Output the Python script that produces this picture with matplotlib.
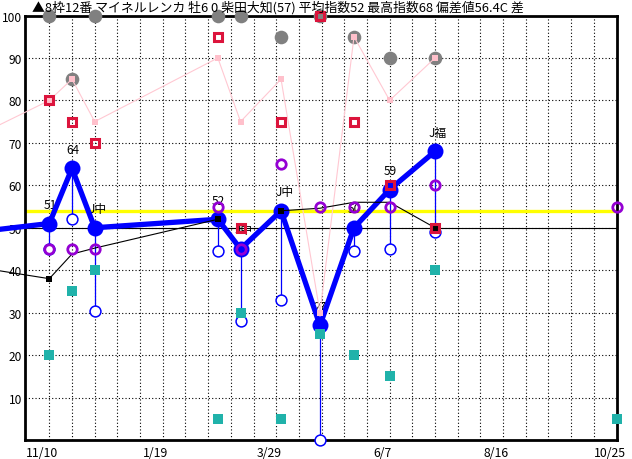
import numpy as np
import pandas as pd
import matplotlib
matplotlib.use('Agg')
import matplotlib.pyplot as plt
import matplotlib.dates as mdates
import matplotlib.transforms as mtransforms

plt.rcParams['font.family'] = ['Noto Sans CJK JP', 'DejaVu Sans']

title = '▲8枠12番 マイネルレンカ 牡6 0 柴田大知(57) 平均指数52 最高指数68 偏差値56.4C 差'

# past races (the first one lies left of the chart, only its lines show)
race_dates = ['2019-09-15', '2019-11-10', '2019-11-24', '2019-12-08', '2020-02-22', '2020-03-07',
              '2020-04-01', '2020-04-25', '2020-05-16', '2020-06-07', '2020-07-05']
index_main = [48.5, 51, 64, 50, 52, 45, 54, 27, 50, 59, 68]
index_labels = [None, '51', '64', 'J中', '52', 'J中', 'J中', '27', '50', '59', 'J福']
index_low = [np.nan, 45, 52, 30.5, 44.5, 28, 33, 0, 44.5, 45, 49]
purple_vals = [np.nan, 45, 45, 45, 55, 45, 65, 55, 55, 55, 60]
red_vals = [np.nan, 80, 75, 70, 95, 50, 75, 100, 75, 60, 50]
teal_vals = [np.nan, 20, 35, 40, 5, 30, 5, 25, 20, 15, 40]
gray_vals = [np.nan, 100, 85, 100, 100, 100, 95, 100, 95, 90, 90]
pink_vals = [69.5, 80, 85, 75, 90, 75, 85, 30, 95, 80, 90]
black_vals = [41.4, 38, 43.8, 45.2, 52, np.nan, 54, 54.6, 56, 56, 50]
black_marked = [1, 4, 6, 10]   # races where the black marker shows

# today's race
today = '2020-10-25'
today_purple = 55
today_teal = 5

yellow_level = 54
base_level = 50
start = '2019-11-10'

x = mdates.date2num(pd.to_datetime(race_dates).to_pydatetime())
xt = mdates.date2num(pd.Timestamp(today).to_pydatetime())
main = np.array(index_main)
low = np.array(index_low)

fig = plt.figure(figsize=(6.32, 4.6), dpi=100)
ax = fig.add_axes([25/632, 19/460, 592/632, 424.5/460])

ax.axhline(base_level, color='black', lw=0.8, zorder=1)
ax.axhline(yellow_level, color='#FFFF00', lw=2.4, zorder=1.5)

# pink line
ax.plot(x, pink_vals, color='#FFC8D2', lw=0.8, zorder=4.4, clip_on=False)
ax.plot(x, pink_vals, 's', color='#FFC0CB', ms=4.7, mew=0, zorder=4.5, clip_on=False)

# thin verticals main -> low
ok = ~np.isnan(low)
ax.vlines(x[ok], low[ok], main[ok], colors='blue', lw=0.9, zorder=3.2)

# labels over the main index
for xi, vi, lbl in zip(x, main, index_labels):
    if lbl:
        ax.annotate(lbl, (xi, vi), xytext=(-6, 19), textcoords='offset pixels',
                    ha='left', va='center', fontsize=8.5, zorder=3)

# main index
ax.plot(x, main, '-', color='blue', lw=3.8, zorder=3.5, clip_on=False)
ax.plot(x[1:], main[1:], 'o', color='blue', ms=11.5, mew=0, zorder=3.6, clip_on=False)

ax.plot(x, low, 'o', mfc='white', mec='blue', ms=7.8, mew=1.1, ls='none', zorder=4, clip_on=False)
ax.plot(list(x) + [xt], teal_vals + [today_teal], 's', color='#20B2AA', ms=6.8, mew=0, ls='none', zorder=4, clip_on=False)
ax.plot(x, gray_vals, 'o', color='#808080', ms=9.8, mew=0, ls='none', zorder=4.2, clip_on=False)

ax.plot(x, black_vals, '-', color='black', lw=0.8, zorder=5, clip_on=False)
ax.plot(x, black_vals, 's', color='black', ms=4.7, mew=0, markevery=black_marked, zorder=5, clip_on=False)

ax.plot(list(x) + [xt], purple_vals + [today_purple], 'o', mfc='none', mec='#9400D3', ms=6.8, mew=2.0,
        ls='none', zorder=5.5, clip_on=False)
ax.plot(x, red_vals, 's', mfc='none', mec='#DC143C', ms=6.0, mew=2.2, ls='none', zorder=6, clip_on=False)

# axes
t0 = pd.Timestamp(start)
ax.set_xlim(mdates.date2num((t0 - pd.Timedelta(days=15)).to_pydatetime()),
            mdates.date2num((pd.Timestamp(today) + pd.Timedelta(hours=7)).to_pydatetime()))
ax.set_ylim(0, 100)

major = pd.date_range(start, today, freq='70D')
minor = pd.date_range(start, today, freq='14D')
ax.set_xticks(mdates.date2num(major.to_pydatetime()))
ax.set_xticklabels([f'{d.month}/{d.day}' for d in major], fontsize=8.8)
ax.set_xticks(mdates.date2num(minor.to_pydatetime()), minor=True)
ax.set_yticks(range(10, 101, 10))
ax.set_yticklabels([str(v) for v in range(10, 101, 10)], fontsize=8.6)
ax.tick_params(which='both', length=0)
ax.tick_params(axis='y', pad=2)
ax.tick_params(axis='x', pad=4)
offset = mtransforms.ScaledTranslation(-7/100, 0, fig.dpi_scale_trans)
for lab in ax.get_xticklabels():
    lab.set_transform(lab.get_transform() + offset)

ax.set_axisbelow(True)
ax.grid(which='both', axis='x', color='black', lw=0.8, ls=(0, (1, 2)))
ax.grid(which='major', axis='y', color='black', lw=0.8, ls=(0, (1, 2)))
for s in ax.spines.values():
    s.set_linewidth(2)

fig.text(32/632, 1 - 8/460, title, ha='left', va='center', fontsize=9.3)

fig.savefig('out.png', dpi=100)
